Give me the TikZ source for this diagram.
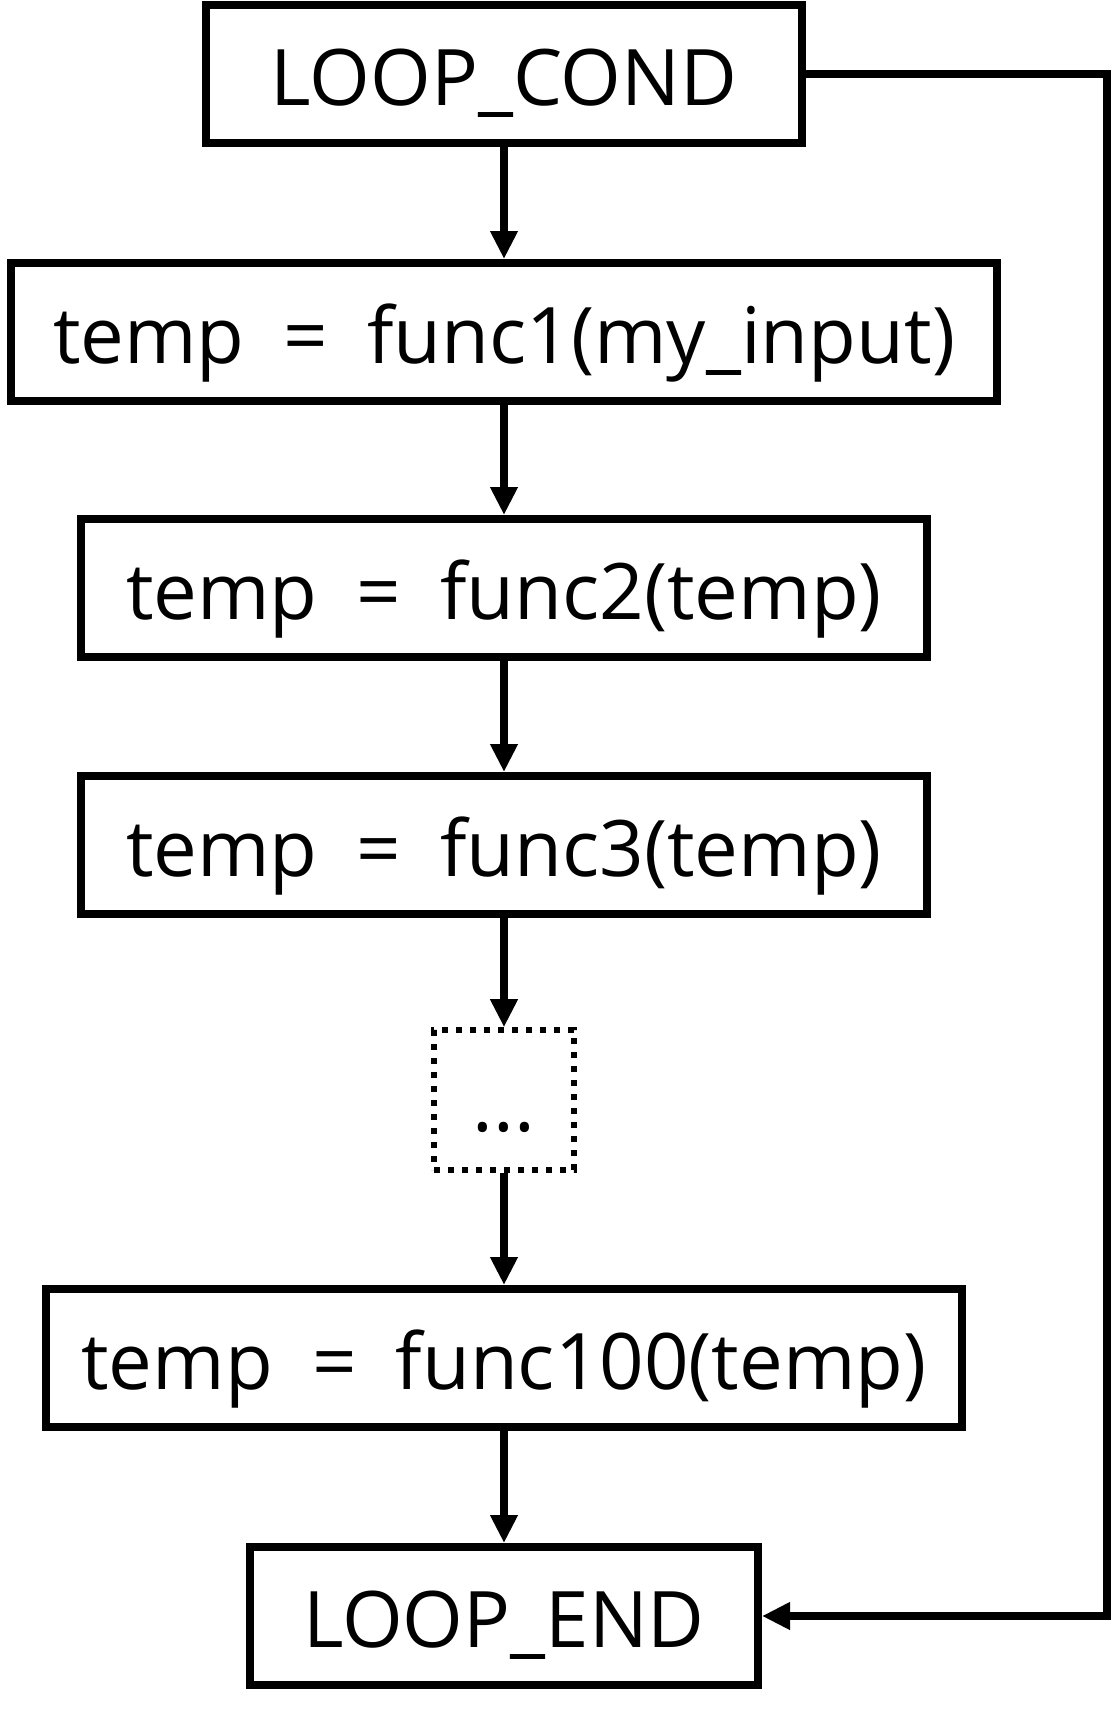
\documentclass[tikz,border=0pt]{standalone}
\usepackage{fontspec}
\setmainfont{Open Sans}
\usetikzlibrary{arrows.meta}
\begin{document}
\begin{tikzpicture}[x=0.5pt,y=-0.5pt,line width=4pt,line join=miter,
	>={Triangle[length=14pt,width=13pt]},
	font=\fontsize{39}{47}\selectfont,
	box/.style={draw,inner sep=0pt,minimum height=69pt,text height=36pt,text depth=5pt},
	dotbox/.style={box,line width=2.8pt,dash pattern=on 2.8pt off 4.2pt}]
	\useasboundingbox (0,0) rectangle (1112,1714);
	\node[box,minimum width=298pt] (cond) at (504,74) {LOOP\_COND};
	\node[box,minimum width=493pt] (f1) at (504,332) {temp\enspace=\enspace func1(my\_input)};
	\node[box,minimum width=423pt] (f2) at (504,588) {temp\enspace=\enspace func2(temp)};
	\node[box,minimum width=423pt] (f3) at (504,845) {temp\enspace=\enspace func3(temp)};
	\node[dotbox,minimum width=70pt,minimum height=70pt] (dots) at (504,1100) {...};
	\node[box,minimum width=458pt] (f100) at (504,1358) {temp\enspace=\enspace func100(temp)};
	\node[box,minimum width=254pt] (end) at (504,1616) {LOOP\_END};
	\coordinate (rt) at (1107,74);
	\foreach \a/\b in {cond/f1,f1/f2,f2/f3,f3/dots,dots/f100,f100/end}
	\draw[->] (\a.south) -- (\b.north);
	\draw[->] (cond.east) -- (rt) |- (end.east);
\end{tikzpicture}
\end{document}
